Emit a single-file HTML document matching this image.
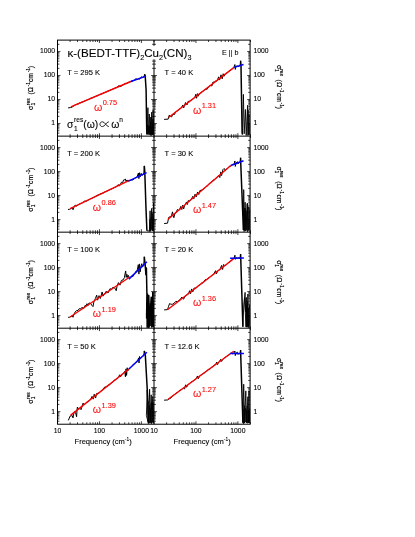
<!DOCTYPE html>
<html><head><meta charset="utf-8"><title>chart</title>
<style>html,body{margin:0;padding:0;background:#fff;}body{width:415px;height:537px;position:relative;overflow:hidden;font-family:"Liberation Sans", sans-serif;}</style></head>
<body>
<svg width="415" height="537" viewBox="0 0 415 537" style="position:absolute;left:0;top:0;will-change:transform;font-family:'Liberation Sans',sans-serif">
<g id="data">
<clipPath id="c0"><rect x="57.5" y="40.1" width="96.5" height="96.03"/></clipPath>
<g clip-path="url(#c0)">
<path d="M68.1 107.9L70.5 107.6L72.4 107.12L73.4 106L74.79 105.16L75.7 104.63L76.8 104.31L77.73 103.96L78.45 103.93L79.32 103.17L80.18 102.94L80.97 102.51L81.76 102.16L82.94 101.9L83.75 101.57L84.9 100.89L86.01 100.56L86.77 100.29L87.47 99.68L88.45 99.55L89.25 99.24L90.07 98.51L90.99 98.18L91.76 97.83L92.73 97.78L93.79 97.13L94.88 96.6L95.88 96.28L96.84 95.74L97.72 95.7L98.66 95.12L99.81 94.4L100.83 94.18L101.99 93.93L103.05 93.26L103.99 92.7L104.98 92.54L106.11 92.1L106.9 91.62L107.66 91.11L108.38 90.92L109.24 90.58L110.25 90.08L111.23 89.62L112.1 89.48L112.9 89.08L113.86 88.66L114.75 88.21L115.92 87.64L116.93 87.48L118.5 85.71L119.87 86.1L121 86.65L122.11 85.11L122.83 84.9L123.58 84.65L125 83.16L126.13 83.75L127.03 83.22L128 82.57L128.93 82.31L129.73 81.87L130.5 81.58L131.3 81.08L132.3 81.11L133.49 80.47L134.55 80.22L136 78.45L137 79.9L138.27 78.83L139.5 79.31L140.64 78.11L141.5 76.7L142.43 77.42L143.28 77.07L144 77.31L144.6 74.2" fill="none" stroke="#000" stroke-width="1.0" stroke-linejoin="round" />
<path d="M144.6 74.2L145.2 75.7L146.1 89.8L146.7 128.6L147 134.5" fill="none" stroke="#000" stroke-width="1.5" stroke-linejoin="round" />
<path d="M147 134.5L147.9 107.7L148.5 133L149.3 114L150 135L150.8 117L151.2 134L151.7 112.2L152.3 135L153.1 110L153.7 135" fill="none" stroke="#000" stroke-width="0.9" stroke-linejoin="round" />
<path d="M146.6 124.26L147.11 134.08L147.5 124.74L147.91 134.31L148.26 127.77L148.56 134.59L148.95 126.01L149.29 133.9L149.59 125.35L150.07 134.86L150.41 121.82L150.82 135.6L151.16 126.42L151.6 135.45L152.05 124.33L152.39 134.67L152.83 119.11L153.21 133.97L153.65 120.23L153.8 134.98" fill="none" stroke="#000" stroke-width="0.7" stroke-linejoin="round" />
<line x1="70.8" y1="106.9" x2="130.8" y2="81.5" stroke="#fa0000" stroke-width="1.4"/>
<line x1="130.8" y1="81.5" x2="146" y2="76.1" stroke="#0000fa" stroke-width="1.5"/>
</g>
<clipPath id="c1"><rect x="154" y="40.1" width="96.5" height="96.03"/></clipPath>
<g clip-path="url(#c1)">
<path d="M164.1 119.4L168.2 119.1L169.2 115.17L170.4 116.45L171.7 116.86L172.6 114.57L174.6 114.44L175.4 112.23L176.61 111.35L177.65 110.71L178.46 109.99L179.25 109.27L180 108.75L180.93 107.77L181.8 107.18L182.8 104.98L183.7 107.89L185.5 102.52L187 104.97L188 101.41L189.45 101.31L190.35 100.63L191.25 100.3L192.28 99.61L193.25 98.61L194.12 98.31L194.83 97.44L195.8 94.25L196.6 98.24L197.4 93.63L198.2 96.22L199.6 93.59L200.48 92.71L201.51 92L202.65 91.46L203.5 91.02L204.55 89.7L205.25 89.49L206.12 88.8L207 89.5L208.43 87.07L209.49 86.09L210.57 85.53L212 85.88L212.9 82.09L214.3 82.12L215.44 81.16L216.21 81.23L217.39 80.33L218.6 76.84L219.6 80.07L221 74.8L222.2 78.89L223.2 73.72L224 76.31L225.61 73.73L226.44 73.28L227.63 72.46L228.78 71.42L229.81 70.78L230.95 70.15L232.08 68.97L233.01 67.83L233.83 67.42L234.9 64.55L235.3 69.43L236 66.21L237.64 66.02L238.48 66.54L239.52 65.92L240 66.08L240.6 60.8" fill="none" stroke="#000" stroke-width="1.0" stroke-linejoin="round" />
<path d="M240.6 60.8L241 66L242.1 132.1L242.4 134.5" fill="none" stroke="#000" stroke-width="1.5" stroke-linejoin="round" />
<path d="M242.4 134.5L243.4 94.4L244.2 133.8L245.4 109.5L246.2 135.5L247.6 105.3L248.2 135" fill="none" stroke="#000" stroke-width="0.9" stroke-linejoin="round" />
<path d="M247.6 108.64L247.92 135.76L248.25 110.11L248.64 135.01L249.11 114.12L249.58 135.22" fill="none" stroke="#000" stroke-width="0.7" stroke-linejoin="round" />
<line x1="168.5" y1="117.5" x2="234.1" y2="67.4" stroke="#fa0000" stroke-width="1.4"/>
<line x1="234.1" y1="67.4" x2="243.5" y2="64.5" stroke="#0000fa" stroke-width="1.5"/>
</g>
<clipPath id="c2"><rect x="57.5" y="136.13" width="96.5" height="96.03"/></clipPath>
<g clip-path="url(#c2)">
<path d="M68 209.5L69.8 209.2L71.3 208.27L72.2 208.1L73 209.72L73.8 207.53L75.2 205.07L76.5 206.04L77.75 205.24L78.72 204.43L79.86 203.9L80.92 203.44L81.69 203.26L82.79 202.55L84 201.26L85.47 201.14L86.44 201.05L87.45 200.61L88.49 199.92L89.36 199.58L90.4 198.72L91.32 198.55L92.22 198.23L93.02 197.7L94.01 197.16L94.99 196.68L95.91 196.2L97.03 195.53L98.04 194.94L98.97 195L100 193.73L101.12 193.82L102.19 193.22L103.19 193.12L104.15 192.32L105.34 191.7L106.51 191.29L107.68 190.79L108.81 190.28L109.95 189.57L110.99 189.27L112.16 188.66L113.2 188.31L114.01 187.66L114.95 187.34L115.76 187.05L116.54 186.62L118 184.63L119.5 185.92L121.5 182.16L122.6 182.64L123.6 179.96L124.6 179.88L125.4 178.9L126 181.41L127 179.94L128.18 181.07L129.3 180.55L130.33 180.25L131.11 179.95L133 179.99L134.22 178.8L135.15 177.9L135.86 177.62L136.88 177.29L138.4 173.05L138.9 178.62L139.5 172.73L140.2 176.81L141.2 173.34L142 175.36L143.28 174.23L143.7 174.46L144.3 165.9" fill="none" stroke="#000" stroke-width="1.0" stroke-linejoin="round" />
<path d="M144.3 165.9L144.8 172L145.9 206L146.9 230.8" fill="none" stroke="#000" stroke-width="1.5" stroke-linejoin="round" />
<path d="M146.9 230.8L149.4 231L150.1 210.8L150.6 231L151.7 208.4L152.4 231L153.6 202.8L153.9 231" fill="none" stroke="#000" stroke-width="0.9" stroke-linejoin="round" />
<path d="M149.4 219.27L149.92 232.01L150.26 221.5L150.6 231.03L151.05 216.82L151.57 229.77L151.95 213.34L152.48 231.03L152.85 213.38L153.15 230.7L153.52 217.56L153.8 230.95" fill="none" stroke="#000" stroke-width="0.7" stroke-linejoin="round" />
<line x1="70.1" y1="208.7" x2="129.8" y2="180.2" stroke="#fa0000" stroke-width="1.4"/>
<line x1="128.5" y1="181.1" x2="146.6" y2="172.6" stroke="#0000fa" stroke-width="1.5"/>
</g>
<clipPath id="c3"><rect x="154" y="136.13" width="96.5" height="96.03"/></clipPath>
<g clip-path="url(#c3)">
<path d="M164.1 223.5L167.5 223.2L168.8 217.24L170.4 216.67L171.6 215.24L172.5 211.87L173.2 215.47L173.9 217.67L174.8 213.5L175.79 212.87L177.5 209.39L178.6 210.64L179.57 209.62L180.8 206.36L181.8 209.5L182.6 205.21L183.7 208.87L184.6 205.3L185.5 204.46L186.4 201.96L187.4 204.5L188.2 200.61L189.63 201.08L190.62 200.05L191.5 198.97L192.8 196.27L193.8 198.81L195 194.19L196.2 196.96L197.6 191.96L198.8 194.53L199.8 190.67L201.57 190.07L202.42 189.74L203.36 189.22L204.19 188.57L204.94 187.79L206.04 186.65L207.09 186.13L208.29 184.99L209.48 183.27L210.54 182.66L211.38 181.74L212.28 181.24L213.39 179.93L214.12 179.98L215.04 179.44L216.18 178.16L217.15 176.79L217.97 176.32L218.86 175.33L219.8 177.53L220.8 171.87L221.6 175.59L222.9 169.67L223.8 168.7L224.6 168.81L225.4 170.73L226.6 168.88L227.57 168.54L228.73 167.24L229.52 166.22L230.24 166.42L231.24 165.86L232.28 164.4L233.16 164.41L233.89 164.74L234.9 160.98L235.3 166.43L236 163.18L237.4 161.66L237.9 163.87L239.3 162.53L240 162.6L240.6 157.8" fill="none" stroke="#000" stroke-width="1.0" stroke-linejoin="round" />
<path d="M240.6 157.8L240.7 162L243.4 230" fill="none" stroke="#000" stroke-width="1.5" stroke-linejoin="round" />
<path d="M243.4 230L243.7 189.6L244.3 230L245.1 202.2L245.9 231L247.4 203L248 231" fill="none" stroke="#000" stroke-width="0.9" stroke-linejoin="round" />
<path d="M243.6 211.44L243.98 231.53L244.41 208L244.86 231.34L245.36 208.2L245.69 230.22L246.21 210.81L246.65 229.98L247.18 204.09L247.61 232.11L247.99 206.42L248.41 230.47L248.92 206.61L249.22 229.66L249.72 209.5L249.8 232.03" fill="none" stroke="#000" stroke-width="0.7" stroke-linejoin="round" />
<line x1="167.8" y1="219.5" x2="230.8" y2="165.5" stroke="#fa0000" stroke-width="1.4"/>
<line x1="230.8" y1="165.5" x2="243.5" y2="160.8" stroke="#0000fa" stroke-width="1.5"/>
</g>
<clipPath id="c4"><rect x="57.5" y="232.16" width="96.5" height="96.03"/></clipPath>
<g clip-path="url(#c4)">
<path d="M68.1 317.4L69.8 317.1L72 316.03L73 317.26L73.8 314.72L75 312.12L76.6 310.64L78 310.51L79.2 308.7L80.6 308.96L82 307.23L82.95 308.08L84.08 308.21L85 305.42L85.96 306.09L87 303.68L87.88 305.65L89 302.94L90.61 303.51L92 305.53L93 306.66L93.8 302.12L95.4 298.45L96.7 295.18L97.6 300.17L99 295.64L100.4 298.5L102.1 291.96L103 296.16L104.32 294.6L106 291.35L108 293.01L110 288.67L111.14 289.32L111.92 289.16L113 287.06L114.45 288.12L115.4 288.65L116.2 290.71L117 286.58L118.4 282.64L120 285.17L121.4 280.43L123 279.96L124.4 277.62L125.2 273.08L125.7 270.95L126.2 277.41L126.9 274.34L127.6 277.47L128.4 275.34L129.47 278.6L130.43 277.57L131.15 276.35L133 276.56L134.05 273.96L135.03 273.26L136 271.08L137.14 270.89L138.3 264.67L138.9 274.09L139.5 263.91L140.2 271.84L141 266.27L141.8 263.7L142.4 267.12L143.7 265.38L144.3 256.7" fill="none" stroke="#000" stroke-width="1.0" stroke-linejoin="round" />
<path d="M144.3 256.7L145.3 266.8L145 262L145.9 274.8L146.4 268L146.9 294L146.6 318L147.5 294L148 326.8L148.8 295.6L149.6 326L150.4 310L151.2 297.2L151.9 327L152.8 292.4L153.5 327" fill="none" stroke="#000" stroke-width="1.5" stroke-linejoin="round" />
<path d="M146.6 302.28L146.98 327.75L147.3 302.95L147.66 327.57L148.16 301.16L148.51 328.05L148.94 303.21L149.37 327.6L149.72 306.83L150.04 325.98L150.48 305.53L150.92 325.82L151.34 305.52L151.69 327.24L152.19 308.58L152.56 325.94L152.89 304.98L153.38 325.9L153.8 300.16L153.8 327.12" fill="none" stroke="#000" stroke-width="0.7" stroke-linejoin="round" />
<line x1="70.1" y1="317" x2="129.8" y2="277" stroke="#fa0000" stroke-width="1.4"/>
<line x1="128.9" y1="279.1" x2="146.9" y2="261.8" stroke="#0000fa" stroke-width="1.5"/>
</g>
<clipPath id="c5"><rect x="154" y="232.16" width="96.5" height="96.03"/></clipPath>
<g clip-path="url(#c5)">
<path d="M164.1 309.9L167.5 309.6L168.6 306.28L169.6 303.51L170.8 304.19L172.5 304.28L174 303.32L175.7 301.41L177.4 301.5L179 300.67L180.6 298.63L181.9 297.03L182.8 298.34L183.7 299.14L184.6 296.75L186.17 295.5L187.36 294.34L188.37 294.08L189.6 290.7L190.6 293.72L191.6 288.95L192.8 291.83L194 288.1L195.4 288.11L196.48 287.88L197.67 286.01L198.74 285.41L199.69 285.1L200.77 283.76L201.73 283.02L202.73 283L203.89 281.58L205 279.82L206.61 279.53L207.38 279.18L208.13 277.99L209.26 277.59L210.45 276.59L211.24 275.99L211.97 275.59L213.03 274.47L213.96 273.5L215.6 270.65L216.6 273.68L217.62 270.85L218.81 270.16L219.97 269.46L221.6 265.43L222.6 269.46L223.6 264.49L224.82 265.79L225.69 265.3L226.52 264.73L227.33 263.74L228.09 262.77L229.29 262.39L230.1 261.33L231.23 260.47L232.17 259.69L233.14 258.7L234.07 258.36L234.9 255.2L235.3 259.39L236 257.77L237.19 258.15L237.91 258.12L239.04 257.63L240 258.58L240.6 254" fill="none" stroke="#000" stroke-width="1.0" stroke-linejoin="round" />
<path d="M240.6 254L240.7 257.1L242.9 326.8" fill="none" stroke="#000" stroke-width="1.5" stroke-linejoin="round" />
<path d="M242.9 326.8L243.8 304L245.1 292.4L245.6 312L244.6 298L246 327L246.3 297.4L247 327L247.9 294L248.5 327" fill="none" stroke="#000" stroke-width="0.9" stroke-linejoin="round" />
<path d="M246.2 305.96L246.59 327.28L246.93 305.72L247.32 326.17L247.68 301.16L248 327.49L248.49 307.9L249.02 328.1L249.49 304.75L249.8 325.84" fill="none" stroke="#000" stroke-width="0.7" stroke-linejoin="round" />
<line x1="167.8" y1="309.5" x2="233.7" y2="258.7" stroke="#fa0000" stroke-width="1.4"/>
<line x1="230.1" y1="258.3" x2="243.9" y2="258" stroke="#0000fa" stroke-width="1.5"/>
</g>
<clipPath id="c6"><rect x="57.5" y="328.19" width="96.5" height="96.03"/></clipPath>
<g clip-path="url(#c6)">
<path d="M68.3 420.4L70.2 416L72.2 415.65L73 417.91L73.7 413.86L74.5 411.72L75.6 412.75L76.6 416.75L77 410.24L77.4 407.02L78.4 409.32L80.2 408.29L81 409.66L82 406.66L83.1 403.09L84 404.87L85.69 403.33L86.63 402.33L87.4 401.92L88.14 401.75L89.01 400.77L89.93 399.78L90.65 399.38L92 396.32L93.2 399.16L94.2 394.17L95.6 398.06L96.6 393.46L98.05 393.37L98.82 392.97L99.68 392.44L100.83 391.34L101.66 390.8L102.43 390.4L104 387.58L105.66 386.78L106.59 386.38L107.41 386.38L108.37 384.95L109.51 384.71L110.53 383.86L111.6 383.07L112.57 382.1L113.54 381.26L114.6 379.86L115.57 379.61L116.68 378.83L117.76 378.43L118.52 377.29L119.6 374.79L120.6 376.79L122.43 374.4L123.28 373.63L124.8 371.26L125.4 376.78L126 368.9L126.6 375.43L127.2 367.75L127.8 370.87L129.3 368.43L130.02 368.31L130.87 367.13L131.65 366.41L132.43 365.69L133.46 364.25L134.59 363.6L135.45 362.93L136.56 361.28L137.53 360.95L138.6 357.95L139 362.97L139.5 356.51L140.2 359.05L141.3 357.34L142.21 356.84L143.01 355.92L143.7 355.69L144.3 350.9" fill="none" stroke="#000" stroke-width="1.0" stroke-linejoin="round" />
<path d="M144.3 350.9L145.3 354.8L148 402.8L148.5 423.6" fill="none" stroke="#000" stroke-width="1.5" stroke-linejoin="round" />
<path d="M148.5 423.6L146.4 415.6L147.2 390L147.9 421L148.8 423L149.6 389.2L150.4 423L151.2 394.8L152 423L152.8 396.4L153.6 423" fill="none" stroke="#000" stroke-width="0.9" stroke-linejoin="round" />
<path d="M148.6 400.83L149.09 422.88L149.49 405.37L150.01 423.39L150.32 408.32L150.7 421.99L151.12 402.89L151.63 423.93L152.14 401.33L152.64 421.83L153.15 402.05L153.69 422.9" fill="none" stroke="#000" stroke-width="0.7" stroke-linejoin="round" />
<line x1="70.5" y1="415.4" x2="128.9" y2="369" stroke="#fa0000" stroke-width="1.4"/>
<line x1="128.9" y1="369" x2="146.9" y2="352.2" stroke="#0000fa" stroke-width="1.5"/>
</g>
<clipPath id="c7"><rect x="154" y="328.19" width="96.5" height="96.03"/></clipPath>
<g clip-path="url(#c7)">
<path d="M164.1 400.2L167.8 399.9L169.2 398.8L170.4 398.52L172 396.75L173.33 395.19L174.1 394.83L175.3 393.94L176.29 393.04L177.35 392.57L178.21 391.71L179 390.82L180.07 390.19L180.84 389.82L181.62 389.37L182.56 388.71L183.38 388.15L184.6 388.93L185.6 384.8L186.6 387.26L188.15 384.49L189.24 383.9L190.36 382.86L191.42 381.7L192.27 381.54L193.28 381.05L194.37 380.29L195.56 378.9L196.59 378.2L197.4 375.96L198.4 378.63L199.78 375.68L200.74 375.21L201.74 374.76L202.73 373.66L203.79 373.09L204.84 372.81L205.54 371.59L206.44 371.13L207.45 370.15L208.28 369.49L209.32 369.32L210.46 368.62L211.59 367.15L212.75 366.92L213.65 365.58L214.56 364.87L215.75 364.46L216.6 362.11L217.6 364.58L218.44 362.42L219.21 361.86L220.6 359.39L221.6 361.45L222.84 359.2L223.99 358.38L225.15 357.2L226.02 356.8L226.92 356.14L228.1 355.39L229.24 354.54L230.26 353.63L230.99 353.38L231.99 353.32L232.77 353.86L233.68 353.34L234.9 351L235.3 355.6L236 353.2L237.4 352.2L237.9 354.4L238.99 353.39L240 353.9L240.6 350.1" fill="none" stroke="#000" stroke-width="1.0" stroke-linejoin="round" />
<path d="M240.6 350.1L240.7 354L242.9 422.8" fill="none" stroke="#000" stroke-width="1.5" stroke-linejoin="round" />
<path d="M242.9 422.8L243.7 384.2L244.6 423L245.8 390.9L246.6 423L247.9 396.7L248.4 423L249 391L249.5 423" fill="none" stroke="#000" stroke-width="0.9" stroke-linejoin="round" />
<path d="M243 402.27L243.41 423.88L243.92 409L244.28 423.21L244.6 405.57L245.05 422.14L245.59 408.22L246 422.03L246.44 410.11L246.83 422L247.18 405.95L247.54 423.28L247.99 411.35L248.3 422.76L248.66 410.21L249.14 421.8L249.69 408.48L249.8 422.42" fill="none" stroke="#000" stroke-width="0.7" stroke-linejoin="round" />
<line x1="168.1" y1="399.2" x2="233.7" y2="351.2" stroke="#fa0000" stroke-width="1.4"/>
<line x1="230.1" y1="353.4" x2="243.9" y2="353.4" stroke="#0000fa" stroke-width="1.5"/>
</g>
</g>
<g id="frame" fill="none" stroke="#000" stroke-width="1">
<rect x="57.5" y="40.1" width="192.6" height="384.12"/>
<path d="M154 40.1V424.22"/>
<path d="M57.5 136.13H250.1"/>
<path d="M57.5 232.16H250.1"/>
<path d="M57.5 328.19H250.1"/>
</g>
<g id="ticks" fill="none" stroke="#000" stroke-width="0.75">
<path d="M70.12 40.1V42M77.51 40.1V42M82.75 40.1V42M86.81 40.1V42M90.13 40.1V42M92.94 40.1V42M95.37 40.1V42M97.52 40.1V42M99.44 40.1V43M112.06 40.1V42M119.45 40.1V42M124.69 40.1V42M128.75 40.1V42M132.07 40.1V42M134.88 40.1V42M137.31 40.1V42M139.46 40.1V42M141.38 40.1V43M154 40.1V42M166.62 40.1V42M174.01 40.1V42M179.25 40.1V42M183.31 40.1V42M186.63 40.1V42M189.44 40.1V42M191.87 40.1V42M194.02 40.1V42M195.94 40.1V43M208.56 40.1V42M215.95 40.1V42M221.19 40.1V42M225.25 40.1V42M228.57 40.1V42M231.38 40.1V42M233.81 40.1V42M235.96 40.1V42M237.88 40.1V43M250.5 40.1V42M70.12 134.23V138.03M77.51 134.23V138.03M82.75 134.23V138.03M86.81 134.23V138.03M90.13 134.23V138.03M92.94 134.23V138.03M95.37 134.23V138.03M97.52 134.23V138.03M99.44 133.23V139.03M112.06 134.23V138.03M119.45 134.23V138.03M124.69 134.23V138.03M128.75 134.23V138.03M132.07 134.23V138.03M134.88 134.23V138.03M137.31 134.23V138.03M139.46 134.23V138.03M141.38 133.23V139.03M154 134.23V138.03M166.62 134.23V138.03M174.01 134.23V138.03M179.25 134.23V138.03M183.31 134.23V138.03M186.63 134.23V138.03M189.44 134.23V138.03M191.87 134.23V138.03M194.02 134.23V138.03M195.94 133.23V139.03M208.56 134.23V138.03M215.95 134.23V138.03M221.19 134.23V138.03M225.25 134.23V138.03M228.57 134.23V138.03M231.38 134.23V138.03M233.81 134.23V138.03M235.96 134.23V138.03M237.88 133.23V139.03M250.5 134.23V138.03M70.12 230.26V234.06M77.51 230.26V234.06M82.75 230.26V234.06M86.81 230.26V234.06M90.13 230.26V234.06M92.94 230.26V234.06M95.37 230.26V234.06M97.52 230.26V234.06M99.44 229.26V235.06M112.06 230.26V234.06M119.45 230.26V234.06M124.69 230.26V234.06M128.75 230.26V234.06M132.07 230.26V234.06M134.88 230.26V234.06M137.31 230.26V234.06M139.46 230.26V234.06M141.38 229.26V235.06M154 230.26V234.06M166.62 230.26V234.06M174.01 230.26V234.06M179.25 230.26V234.06M183.31 230.26V234.06M186.63 230.26V234.06M189.44 230.26V234.06M191.87 230.26V234.06M194.02 230.26V234.06M195.94 229.26V235.06M208.56 230.26V234.06M215.95 230.26V234.06M221.19 230.26V234.06M225.25 230.26V234.06M228.57 230.26V234.06M231.38 230.26V234.06M233.81 230.26V234.06M235.96 230.26V234.06M237.88 229.26V235.06M250.5 230.26V234.06M70.12 326.29V330.09M77.51 326.29V330.09M82.75 326.29V330.09M86.81 326.29V330.09M90.13 326.29V330.09M92.94 326.29V330.09M95.37 326.29V330.09M97.52 326.29V330.09M99.44 325.29V331.09M112.06 326.29V330.09M119.45 326.29V330.09M124.69 326.29V330.09M128.75 326.29V330.09M132.07 326.29V330.09M134.88 326.29V330.09M137.31 326.29V330.09M139.46 326.29V330.09M141.38 325.29V331.09M154 326.29V330.09M166.62 326.29V330.09M174.01 326.29V330.09M179.25 326.29V330.09M183.31 326.29V330.09M186.63 326.29V330.09M189.44 326.29V330.09M191.87 326.29V330.09M194.02 326.29V330.09M195.94 325.29V331.09M208.56 326.29V330.09M215.95 326.29V330.09M221.19 326.29V330.09M225.25 326.29V330.09M228.57 326.29V330.09M231.38 326.29V330.09M233.81 326.29V330.09M235.96 326.29V330.09M237.88 325.29V331.09M250.5 326.29V330.09M70.12 422.32V424.22M77.51 422.32V424.22M82.75 422.32V424.22M86.81 422.32V424.22M90.13 422.32V424.22M92.94 422.32V424.22M95.37 422.32V424.22M97.52 422.32V424.22M99.44 421.32V424.22M112.06 422.32V424.22M119.45 422.32V424.22M124.69 422.32V424.22M128.75 422.32V424.22M132.07 422.32V424.22M134.88 422.32V424.22M137.31 422.32V424.22M139.46 422.32V424.22M141.38 421.32V424.22M154 422.32V424.22M166.62 422.32V424.22M174.01 422.32V424.22M179.25 422.32V424.22M183.31 422.32V424.22M186.63 422.32V424.22M189.44 422.32V424.22M191.87 422.32V424.22M194.02 422.32V424.22M195.94 421.32V424.22M208.56 422.32V424.22M215.95 422.32V424.22M221.19 422.32V424.22M225.25 422.32V424.22M228.57 422.32V424.22M231.38 422.32V424.22M233.81 422.32V424.22M235.96 422.32V424.22M237.88 421.32V424.22M250.5 422.32V424.22M57.5 133.1H59.4M57.5 130.78H59.4M57.5 128.88H59.4M57.5 127.27H59.4M57.5 125.88H59.4M57.5 124.65H59.4M57.5 123.55H60.4M57.5 116.33H59.4M57.5 112.1H59.4M57.5 109.1H59.4M57.5 106.78H59.4M57.5 104.88H59.4M57.5 103.27H59.4M57.5 101.88H59.4M57.5 100.65H59.4M57.5 99.55H60.4M57.5 92.33H59.4M57.5 88.1H59.4M57.5 85.1H59.4M57.5 82.78H59.4M57.5 80.88H59.4M57.5 79.27H59.4M57.5 77.88H59.4M57.5 76.65H59.4M57.5 75.55H60.4M57.5 68.33H59.4M57.5 64.1H59.4M57.5 61.1H59.4M57.5 58.78H59.4M57.5 56.88H59.4M57.5 55.27H59.4M57.5 53.88H59.4M57.5 52.65H59.4M57.5 51.55H60.4M57.5 44.33H59.4M152.1 133.1H155.9M152.1 130.78H155.9M152.1 128.88H155.9M152.1 127.27H155.9M152.1 125.88H155.9M152.1 124.65H155.9M151.1 123.55H156.9M152.1 116.33H155.9M152.1 112.1H155.9M152.1 109.1H155.9M152.1 106.78H155.9M152.1 104.88H155.9M152.1 103.27H155.9M152.1 101.88H155.9M152.1 100.65H155.9M151.1 99.55H156.9M152.1 92.33H155.9M152.1 88.1H155.9M152.1 85.1H155.9M152.1 82.78H155.9M152.1 80.88H155.9M152.1 79.27H155.9M152.1 77.88H155.9M152.1 76.65H155.9M151.1 75.55H156.9M152.1 68.33H155.9M152.1 64.1H155.9M152.1 61.1H155.9M152.1 58.78H155.9M152.1 56.88H155.9M152.1 55.27H155.9M152.1 53.88H155.9M152.1 52.65H155.9M151.1 51.55H156.9M152.1 44.33H155.9M248.2 133.1H250.1M248.2 130.78H250.1M248.2 128.88H250.1M248.2 127.27H250.1M248.2 125.88H250.1M248.2 124.65H250.1M247.2 123.55H250.1M248.2 116.33H250.1M248.2 112.1H250.1M248.2 109.1H250.1M248.2 106.78H250.1M248.2 104.88H250.1M248.2 103.27H250.1M248.2 101.88H250.1M248.2 100.65H250.1M247.2 99.55H250.1M248.2 92.33H250.1M248.2 88.1H250.1M248.2 85.1H250.1M248.2 82.78H250.1M248.2 80.88H250.1M248.2 79.27H250.1M248.2 77.88H250.1M248.2 76.65H250.1M247.2 75.55H250.1M248.2 68.33H250.1M248.2 64.1H250.1M248.2 61.1H250.1M248.2 58.78H250.1M248.2 56.88H250.1M248.2 55.27H250.1M248.2 53.88H250.1M248.2 52.65H250.1M247.2 51.55H250.1M248.2 44.33H250.1M57.5 229.13H59.4M57.5 226.81H59.4M57.5 224.91H59.4M57.5 223.3H59.4M57.5 221.91H59.4M57.5 220.68H59.4M57.5 219.58H60.4M57.5 212.36H59.4M57.5 208.13H59.4M57.5 205.13H59.4M57.5 202.81H59.4M57.5 200.91H59.4M57.5 199.3H59.4M57.5 197.91H59.4M57.5 196.68H59.4M57.5 195.58H60.4M57.5 188.36H59.4M57.5 184.13H59.4M57.5 181.13H59.4M57.5 178.81H59.4M57.5 176.91H59.4M57.5 175.3H59.4M57.5 173.91H59.4M57.5 172.68H59.4M57.5 171.58H60.4M57.5 164.36H59.4M57.5 160.13H59.4M57.5 157.13H59.4M57.5 154.81H59.4M57.5 152.91H59.4M57.5 151.3H59.4M57.5 149.91H59.4M57.5 148.68H59.4M57.5 147.58H60.4M57.5 140.36H59.4M152.1 229.13H155.9M152.1 226.81H155.9M152.1 224.91H155.9M152.1 223.3H155.9M152.1 221.91H155.9M152.1 220.68H155.9M151.1 219.58H156.9M152.1 212.36H155.9M152.1 208.13H155.9M152.1 205.13H155.9M152.1 202.81H155.9M152.1 200.91H155.9M152.1 199.3H155.9M152.1 197.91H155.9M152.1 196.68H155.9M151.1 195.58H156.9M152.1 188.36H155.9M152.1 184.13H155.9M152.1 181.13H155.9M152.1 178.81H155.9M152.1 176.91H155.9M152.1 175.3H155.9M152.1 173.91H155.9M152.1 172.68H155.9M151.1 171.58H156.9M152.1 164.36H155.9M152.1 160.13H155.9M152.1 157.13H155.9M152.1 154.81H155.9M152.1 152.91H155.9M152.1 151.3H155.9M152.1 149.91H155.9M152.1 148.68H155.9M151.1 147.58H156.9M152.1 140.36H155.9M248.2 229.13H250.1M248.2 226.81H250.1M248.2 224.91H250.1M248.2 223.3H250.1M248.2 221.91H250.1M248.2 220.68H250.1M247.2 219.58H250.1M248.2 212.36H250.1M248.2 208.13H250.1M248.2 205.13H250.1M248.2 202.81H250.1M248.2 200.91H250.1M248.2 199.3H250.1M248.2 197.91H250.1M248.2 196.68H250.1M247.2 195.58H250.1M248.2 188.36H250.1M248.2 184.13H250.1M248.2 181.13H250.1M248.2 178.81H250.1M248.2 176.91H250.1M248.2 175.3H250.1M248.2 173.91H250.1M248.2 172.68H250.1M247.2 171.58H250.1M248.2 164.36H250.1M248.2 160.13H250.1M248.2 157.13H250.1M248.2 154.81H250.1M248.2 152.91H250.1M248.2 151.3H250.1M248.2 149.91H250.1M248.2 148.68H250.1M247.2 147.58H250.1M248.2 140.36H250.1M57.5 325.16H59.4M57.5 322.84H59.4M57.5 320.94H59.4M57.5 319.33H59.4M57.5 317.94H59.4M57.5 316.71H59.4M57.5 315.61H60.4M57.5 308.39H59.4M57.5 304.16H59.4M57.5 301.16H59.4M57.5 298.84H59.4M57.5 296.94H59.4M57.5 295.33H59.4M57.5 293.94H59.4M57.5 292.71H59.4M57.5 291.61H60.4M57.5 284.39H59.4M57.5 280.16H59.4M57.5 277.16H59.4M57.5 274.84H59.4M57.5 272.94H59.4M57.5 271.33H59.4M57.5 269.94H59.4M57.5 268.71H59.4M57.5 267.61H60.4M57.5 260.39H59.4M57.5 256.16H59.4M57.5 253.16H59.4M57.5 250.84H59.4M57.5 248.94H59.4M57.5 247.33H59.4M57.5 245.94H59.4M57.5 244.71H59.4M57.5 243.61H60.4M57.5 236.39H59.4M152.1 325.16H155.9M152.1 322.84H155.9M152.1 320.94H155.9M152.1 319.33H155.9M152.1 317.94H155.9M152.1 316.71H155.9M151.1 315.61H156.9M152.1 308.39H155.9M152.1 304.16H155.9M152.1 301.16H155.9M152.1 298.84H155.9M152.1 296.94H155.9M152.1 295.33H155.9M152.1 293.94H155.9M152.1 292.71H155.9M151.1 291.61H156.9M152.1 284.39H155.9M152.1 280.16H155.9M152.1 277.16H155.9M152.1 274.84H155.9M152.1 272.94H155.9M152.1 271.33H155.9M152.1 269.94H155.9M152.1 268.71H155.9M151.1 267.61H156.9M152.1 260.39H155.9M152.1 256.16H155.9M152.1 253.16H155.9M152.1 250.84H155.9M152.1 248.94H155.9M152.1 247.33H155.9M152.1 245.94H155.9M152.1 244.71H155.9M151.1 243.61H156.9M152.1 236.39H155.9M248.2 325.16H250.1M248.2 322.84H250.1M248.2 320.94H250.1M248.2 319.33H250.1M248.2 317.94H250.1M248.2 316.71H250.1M247.2 315.61H250.1M248.2 308.39H250.1M248.2 304.16H250.1M248.2 301.16H250.1M248.2 298.84H250.1M248.2 296.94H250.1M248.2 295.33H250.1M248.2 293.94H250.1M248.2 292.71H250.1M247.2 291.61H250.1M248.2 284.39H250.1M248.2 280.16H250.1M248.2 277.16H250.1M248.2 274.84H250.1M248.2 272.94H250.1M248.2 271.33H250.1M248.2 269.94H250.1M248.2 268.71H250.1M247.2 267.61H250.1M248.2 260.39H250.1M248.2 256.16H250.1M248.2 253.16H250.1M248.2 250.84H250.1M248.2 248.94H250.1M248.2 247.33H250.1M248.2 245.94H250.1M248.2 244.71H250.1M247.2 243.61H250.1M248.2 236.39H250.1M57.5 421.19H59.4M57.5 418.87H59.4M57.5 416.97H59.4M57.5 415.36H59.4M57.5 413.97H59.4M57.5 412.74H59.4M57.5 411.64H60.4M57.5 404.42H59.4M57.5 400.19H59.4M57.5 397.19H59.4M57.5 394.87H59.4M57.5 392.97H59.4M57.5 391.36H59.4M57.5 389.97H59.4M57.5 388.74H59.4M57.5 387.64H60.4M57.5 380.42H59.4M57.5 376.19H59.4M57.5 373.19H59.4M57.5 370.87H59.4M57.5 368.97H59.4M57.5 367.36H59.4M57.5 365.97H59.4M57.5 364.74H59.4M57.5 363.64H60.4M57.5 356.42H59.4M57.5 352.19H59.4M57.5 349.19H59.4M57.5 346.87H59.4M57.5 344.97H59.4M57.5 343.36H59.4M57.5 341.97H59.4M57.5 340.74H59.4M57.5 339.64H60.4M57.5 332.42H59.4M152.1 421.19H155.9M152.1 418.87H155.9M152.1 416.97H155.9M152.1 415.36H155.9M152.1 413.97H155.9M152.1 412.74H155.9M151.1 411.64H156.9M152.1 404.42H155.9M152.1 400.19H155.9M152.1 397.19H155.9M152.1 394.87H155.9M152.1 392.97H155.9M152.1 391.36H155.9M152.1 389.97H155.9M152.1 388.74H155.9M151.1 387.64H156.9M152.1 380.42H155.9M152.1 376.19H155.9M152.1 373.19H155.9M152.1 370.87H155.9M152.1 368.97H155.9M152.1 367.36H155.9M152.1 365.97H155.9M152.1 364.74H155.9M151.1 363.64H156.9M152.1 356.42H155.9M152.1 352.19H155.9M152.1 349.19H155.9M152.1 346.87H155.9M152.1 344.97H155.9M152.1 343.36H155.9M152.1 341.97H155.9M152.1 340.74H155.9M151.1 339.64H156.9M152.1 332.42H155.9M248.2 421.19H250.1M248.2 418.87H250.1M248.2 416.97H250.1M248.2 415.36H250.1M248.2 413.97H250.1M248.2 412.74H250.1M247.2 411.64H250.1M248.2 404.42H250.1M248.2 400.19H250.1M248.2 397.19H250.1M248.2 394.87H250.1M248.2 392.97H250.1M248.2 391.36H250.1M248.2 389.97H250.1M248.2 388.74H250.1M247.2 387.64H250.1M248.2 380.42H250.1M248.2 376.19H250.1M248.2 373.19H250.1M248.2 370.87H250.1M248.2 368.97H250.1M248.2 367.36H250.1M248.2 365.97H250.1M248.2 364.74H250.1M247.2 363.64H250.1M248.2 356.42H250.1M248.2 352.19H250.1M248.2 349.19H250.1M248.2 346.87H250.1M248.2 344.97H250.1M248.2 343.36H250.1M248.2 341.97H250.1M248.2 340.74H250.1M247.2 339.64H250.1M248.2 332.42H250.1"/>
</g>
<g id="labels" fill="#000" stroke="#000" stroke-width="0.1">
<text x="55" y="53.35" font-size="6.8" text-anchor="end">1000</text>
<text x="253.4" y="53.35" font-size="6.8" text-anchor="start">1000</text>
<text x="55" y="77.35" font-size="6.8" text-anchor="end">100</text>
<text x="253.4" y="77.35" font-size="6.8" text-anchor="start">100</text>
<text x="55" y="101.35" font-size="6.8" text-anchor="end">10</text>
<text x="253.4" y="101.35" font-size="6.8" text-anchor="start">10</text>
<text x="55" y="125.35" font-size="6.8" text-anchor="end">1</text>
<text x="253.4" y="125.35" font-size="6.8" text-anchor="start">1</text>
<text x="55" y="149.88" font-size="6.8" text-anchor="end">1000</text>
<text x="253.4" y="149.88" font-size="6.8" text-anchor="start">1000</text>
<text x="55" y="173.88" font-size="6.8" text-anchor="end">100</text>
<text x="253.4" y="173.88" font-size="6.8" text-anchor="start">100</text>
<text x="55" y="197.88" font-size="6.8" text-anchor="end">10</text>
<text x="253.4" y="197.88" font-size="6.8" text-anchor="start">10</text>
<text x="55" y="221.88" font-size="6.8" text-anchor="end">1</text>
<text x="253.4" y="221.88" font-size="6.8" text-anchor="start">1</text>
<text x="55" y="245.91" font-size="6.8" text-anchor="end">1000</text>
<text x="253.4" y="245.91" font-size="6.8" text-anchor="start">1000</text>
<text x="55" y="269.91" font-size="6.8" text-anchor="end">100</text>
<text x="253.4" y="269.91" font-size="6.8" text-anchor="start">100</text>
<text x="55" y="293.91" font-size="6.8" text-anchor="end">10</text>
<text x="253.4" y="293.91" font-size="6.8" text-anchor="start">10</text>
<text x="55" y="317.91" font-size="6.8" text-anchor="end">1</text>
<text x="253.4" y="317.91" font-size="6.8" text-anchor="start">1</text>
<text x="55" y="341.94" font-size="6.8" text-anchor="end">1000</text>
<text x="253.4" y="341.94" font-size="6.8" text-anchor="start">1000</text>
<text x="55" y="365.94" font-size="6.8" text-anchor="end">100</text>
<text x="253.4" y="365.94" font-size="6.8" text-anchor="start">100</text>
<text x="55" y="389.94" font-size="6.8" text-anchor="end">10</text>
<text x="253.4" y="389.94" font-size="6.8" text-anchor="start">10</text>
<text x="55" y="413.94" font-size="6.8" text-anchor="end">1</text>
<text x="253.4" y="413.94" font-size="6.8" text-anchor="start">1</text>
<text x="57.5" y="433.4" font-size="6.8" text-anchor="middle">10</text>
<text x="99.44" y="433.4" font-size="6.8" text-anchor="middle">100</text>
<text x="141.38" y="433.4" font-size="6.8" text-anchor="middle">1000</text>
<text x="154" y="433.4" font-size="6.8" text-anchor="middle">10</text>
<text x="195.94" y="433.4" font-size="6.8" text-anchor="middle">100</text>
<text x="237.88" y="433.4" font-size="6.8" text-anchor="middle">1000</text>
<text x="103.1" y="443.8" font-size="7.55" text-anchor="middle">Frequency (cm<tspan font-size="4.8" dy="-3">-1</tspan><tspan dy="3">)</tspan></text>
<text x="202.1" y="443.8" font-size="7.55" text-anchor="middle">Frequency (cm<tspan font-size="4.8" dy="-3">-1</tspan><tspan dy="3">)</tspan></text>
<g transform="translate(33.2 88) rotate(-90)" font-size="6.9" stroke="#000" stroke-width="0.18"><text x="-22" y="0">σ</text><text x="-17.4" y="1.9" font-size="4.9">1</text><text x="-17.2" y="-3.6" font-size="4.9">res</text><text x="-6.6" y="0">(Ω</text><text x="1.5" y="-3.4" font-size="4.9">-1</text><text x="5.9" y="0">cm</text><text x="15.7" y="-3.4" font-size="4.9">-1</text><text x="19.8" y="0">)</text></g>
<g transform="translate(276.6 88) rotate(90)" font-size="6.9" stroke="#000" stroke-width="0.18"><text x="-23.1" y="0">σ</text><text x="-19.0" y="1.9" font-size="4.9">1</text><text x="-18.8" y="-3.6" font-size="4.9">res</text><text x="-8.4" y="0">(Ω</text><text x="0.1" y="-3.4" font-size="4.9">-1</text><text x="4.9" y="0">cm</text><text x="14.5" y="-3.4" font-size="4.9">-1</text><text x="18.4" y="0">)</text></g>
<g transform="translate(33.2 189.83) rotate(-90)" font-size="6.9" stroke="#000" stroke-width="0.18"><text x="-22" y="0">σ</text><text x="-17.4" y="1.9" font-size="4.9">1</text><text x="-17.2" y="-3.6" font-size="4.9">res</text><text x="-6.6" y="0">(Ω</text><text x="1.5" y="-3.4" font-size="4.9">-1</text><text x="5.9" y="0">cm</text><text x="15.7" y="-3.4" font-size="4.9">-1</text><text x="19.8" y="0">)</text></g>
<g transform="translate(276.6 189.53) rotate(90)" font-size="6.9" stroke="#000" stroke-width="0.18"><text x="-23.1" y="0">σ</text><text x="-19.0" y="1.9" font-size="4.9">1</text><text x="-18.8" y="-3.6" font-size="4.9">res</text><text x="-8.4" y="0">(Ω</text><text x="0.1" y="-3.4" font-size="4.9">-1</text><text x="4.9" y="0">cm</text><text x="14.5" y="-3.4" font-size="4.9">-1</text><text x="18.4" y="0">)</text></g>
<g transform="translate(33.2 282.36) rotate(-90)" font-size="6.9" stroke="#000" stroke-width="0.18"><text x="-22" y="0">σ</text><text x="-17.4" y="1.9" font-size="4.9">1</text><text x="-17.2" y="-3.6" font-size="4.9">res</text><text x="-6.6" y="0">(Ω</text><text x="1.5" y="-3.4" font-size="4.9">-1</text><text x="5.9" y="0">cm</text><text x="15.7" y="-3.4" font-size="4.9">-1</text><text x="19.8" y="0">)</text></g>
<g transform="translate(276.6 283.26) rotate(90)" font-size="6.9" stroke="#000" stroke-width="0.18"><text x="-23.1" y="0">σ</text><text x="-19.0" y="1.9" font-size="4.9">1</text><text x="-18.8" y="-3.6" font-size="4.9">res</text><text x="-8.4" y="0">(Ω</text><text x="0.1" y="-3.4" font-size="4.9">-1</text><text x="4.9" y="0">cm</text><text x="14.5" y="-3.4" font-size="4.9">-1</text><text x="18.4" y="0">)</text></g>
<g transform="translate(33.2 381.79) rotate(-90)" font-size="6.9" stroke="#000" stroke-width="0.18"><text x="-22" y="0">σ</text><text x="-17.4" y="1.9" font-size="4.9">1</text><text x="-17.2" y="-3.6" font-size="4.9">res</text><text x="-6.6" y="0">(Ω</text><text x="1.5" y="-3.4" font-size="4.9">-1</text><text x="5.9" y="0">cm</text><text x="15.7" y="-3.4" font-size="4.9">-1</text><text x="19.8" y="0">)</text></g>
<g transform="translate(276.6 380.99) rotate(90)" font-size="6.9" stroke="#000" stroke-width="0.18"><text x="-23.1" y="0">σ</text><text x="-19.0" y="1.9" font-size="4.9">1</text><text x="-18.8" y="-3.6" font-size="4.9">res</text><text x="-8.4" y="0">(Ω</text><text x="0.1" y="-3.4" font-size="4.9">-1</text><text x="4.9" y="0">cm</text><text x="14.5" y="-3.4" font-size="4.9">-1</text><text x="18.4" y="0">)</text></g>
<text x="67.3" y="74.8" font-size="7.55">T = 295 K</text>
<text x="94" y="111" font-size="10.6" fill="#ff0000" stroke="none">ω</text>
<text x="102.7" y="105.3" font-size="7.4" fill="#ff0000" stroke="#ff0000" stroke-width="0.08">0.75</text>
<text x="164.6" y="74.8" font-size="7.55">T = 40 K</text>
<text x="193" y="114" font-size="10.6" fill="#ff0000" stroke="none">ω</text>
<text x="201.7" y="108.3" font-size="7.4" fill="#ff0000" stroke="#ff0000" stroke-width="0.08">1.31</text>
<text x="67.3" y="155.5" font-size="7.55">T = 200 K</text>
<text x="92.8" y="210.7" font-size="10.6" fill="#ff0000" stroke="none">ω</text>
<text x="101.5" y="205" font-size="7.4" fill="#ff0000" stroke="#ff0000" stroke-width="0.08">0.86</text>
<text x="164.6" y="155.5" font-size="7.55">T = 30 K</text>
<text x="193" y="213.2" font-size="10.6" fill="#ff0000" stroke="none">ω</text>
<text x="201.7" y="207.5" font-size="7.4" fill="#ff0000" stroke="#ff0000" stroke-width="0.08">1.47</text>
<text x="67.3" y="251.5" font-size="7.55">T = 100 K</text>
<text x="92.8" y="317.2" font-size="10.6" fill="#ff0000" stroke="none">ω</text>
<text x="101.5" y="311.5" font-size="7.4" fill="#ff0000" stroke="#ff0000" stroke-width="0.08">1.19</text>
<text x="164.6" y="251.5" font-size="7.55">T = 20 K</text>
<text x="193" y="306.2" font-size="10.6" fill="#ff0000" stroke="none">ω</text>
<text x="201.7" y="300.5" font-size="7.4" fill="#ff0000" stroke="#ff0000" stroke-width="0.08">1.36</text>
<text x="67.3" y="348.5" font-size="7.55">T = 50 K</text>
<text x="92.8" y="413.2" font-size="10.6" fill="#ff0000" stroke="none">ω</text>
<text x="101.5" y="407.5" font-size="7.4" fill="#ff0000" stroke="#ff0000" stroke-width="0.08">1.39</text>
<text x="164.6" y="348.5" font-size="7.55">T = 12.6 K</text>
<text x="193" y="397.2" font-size="10.6" fill="#ff0000" stroke="none">ω</text>
<text x="201.7" y="391.5" font-size="7.4" fill="#ff0000" stroke="#ff0000" stroke-width="0.08">1.27</text>
<rect x="65" y="45.8" width="126" height="13.6" fill="#fff" stroke="none"/>
<text x="67.4" y="56.6" font-size="11.6">κ-(BEDT-TTF)<tspan font-size="7.2" dy="3.5">2</tspan><tspan dy="-3.5">Cu</tspan><tspan font-size="7.2" dy="3.5">2</tspan><tspan dy="-3.5">(CN)</tspan><tspan font-size="7.2" dy="3.5">3</tspan></text>
<text x="222" y="54.8" font-size="7.2">E || b</text>
<text x="67" y="127.5" font-size="10.4">σ<tspan font-size="6.6" dy="3.6" dx="0.6">1</tspan><tspan font-size="6.6" dy="-9.0" dx="-3.6">res</tspan><tspan dy="5.4">(ω)</tspan></text>
<path d="M108.8 121.8C106.2 121.8 105.2 126.6 102.4 126.6C100.9 126.6 99.9 125.5 99.9 124.2C99.9 122.9 100.9 121.8 102.4 121.8C105.2 121.8 106.2 126.6 108.8 126.6" fill="none" stroke="#000" stroke-width="0.85"/>
<text x="111.2" y="127.5" font-size="10.4">ω<tspan font-size="6.6" dy="-5.2">n</tspan></text>
</g>
</svg>
</body></html>
